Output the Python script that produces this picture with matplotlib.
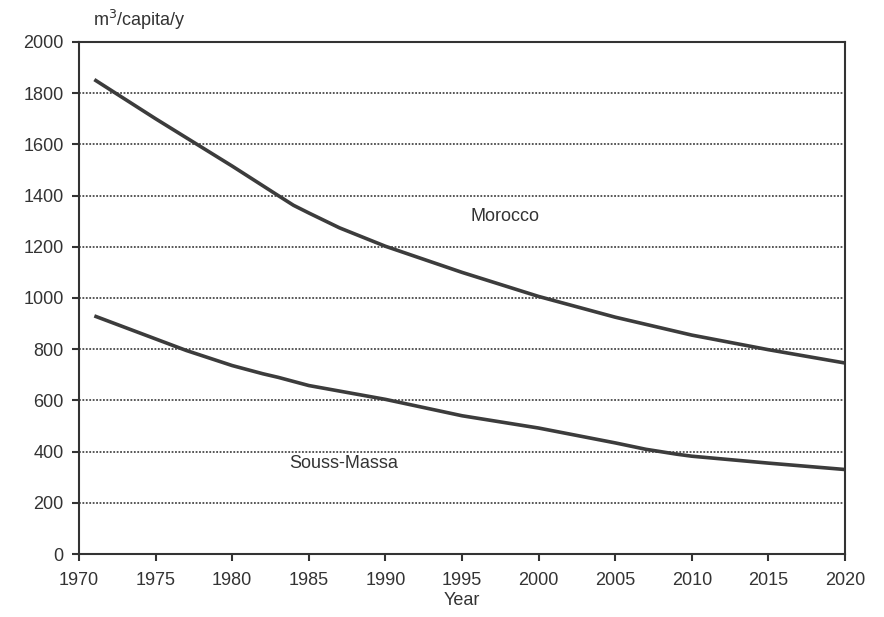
import matplotlib
matplotlib.use("Agg")
import matplotlib.pyplot as plt

years_morocco = [1971, 1975, 1980, 1983, 1984, 1985, 1987, 1990, 1995, 2000, 2005, 2010, 2015, 2020]
morocco = [1853, 1700, 1515, 1400, 1362, 1332, 1274, 1202, 1100, 1006, 925, 855, 798, 746]

years_souss = [1971, 1975, 1977, 1980, 1982, 1983, 1985, 1990, 1995, 2000, 2005, 2007, 2009, 2010, 2015, 2020]
souss = [930, 840, 795, 736, 704, 690, 658, 604, 540, 492, 434, 409, 390, 382, 355, 330]

xticks = list(range(1970, 2021, 5))
yticks = list(range(0, 2001, 200))

plt.rcParams['font.family'] = ['Liberation Sans', 'DejaVu Sans']

fig = plt.figure(figsize=(8.84, 6.17), dpi=100)
ax = fig.add_axes([0.0894, 0.1021, 0.8665, 0.8299])

line_color = '#3c3c3c'
ax.plot(years_morocco, morocco, color=line_color, lw=2.6, solid_capstyle='butt',
        solid_joinstyle='round')
ax.plot(years_souss, souss, color=line_color, lw=2.6, solid_capstyle='butt',
        solid_joinstyle='round')

ax.set_xlim(1970, 2020)
ax.set_ylim(0, 2000)
ax.set_xticks(xticks)
ax.set_yticks(yticks)

for y in yticks[1:-1]:
    ax.axhline(y, color='#4a4a4a', lw=1.3, ls=(0, (1, 0.9)), zorder=0)

for s in ax.spines.values():
    s.set_color('#333333')
    s.set_linewidth(1.5)

ax.tick_params(axis='both', direction='out', length=5, width=1.5, color='#333333',
               labelsize=13, labelcolor='#333333')
ax.tick_params(axis='x', pad=8)
ax.tick_params(axis='y', pad=6)

ax.set_xlabel('Year', fontsize=13, color='#333333', labelpad=2)

ax.text(1997.8, 1320, 'Morocco', fontsize=13, color='#333333', ha='center', va='center')
ax.text(1987.3, 355, 'Souss-Massa', fontsize=13, color='#333333', ha='center', va='center')

fig.text(93 / 884, 1 - 20 / 617, 'm$^3$/capita/y', fontsize=13, color='#333333',
         ha='left', va='center')

fig.savefig('out.png', dpi=100, facecolor='white')
